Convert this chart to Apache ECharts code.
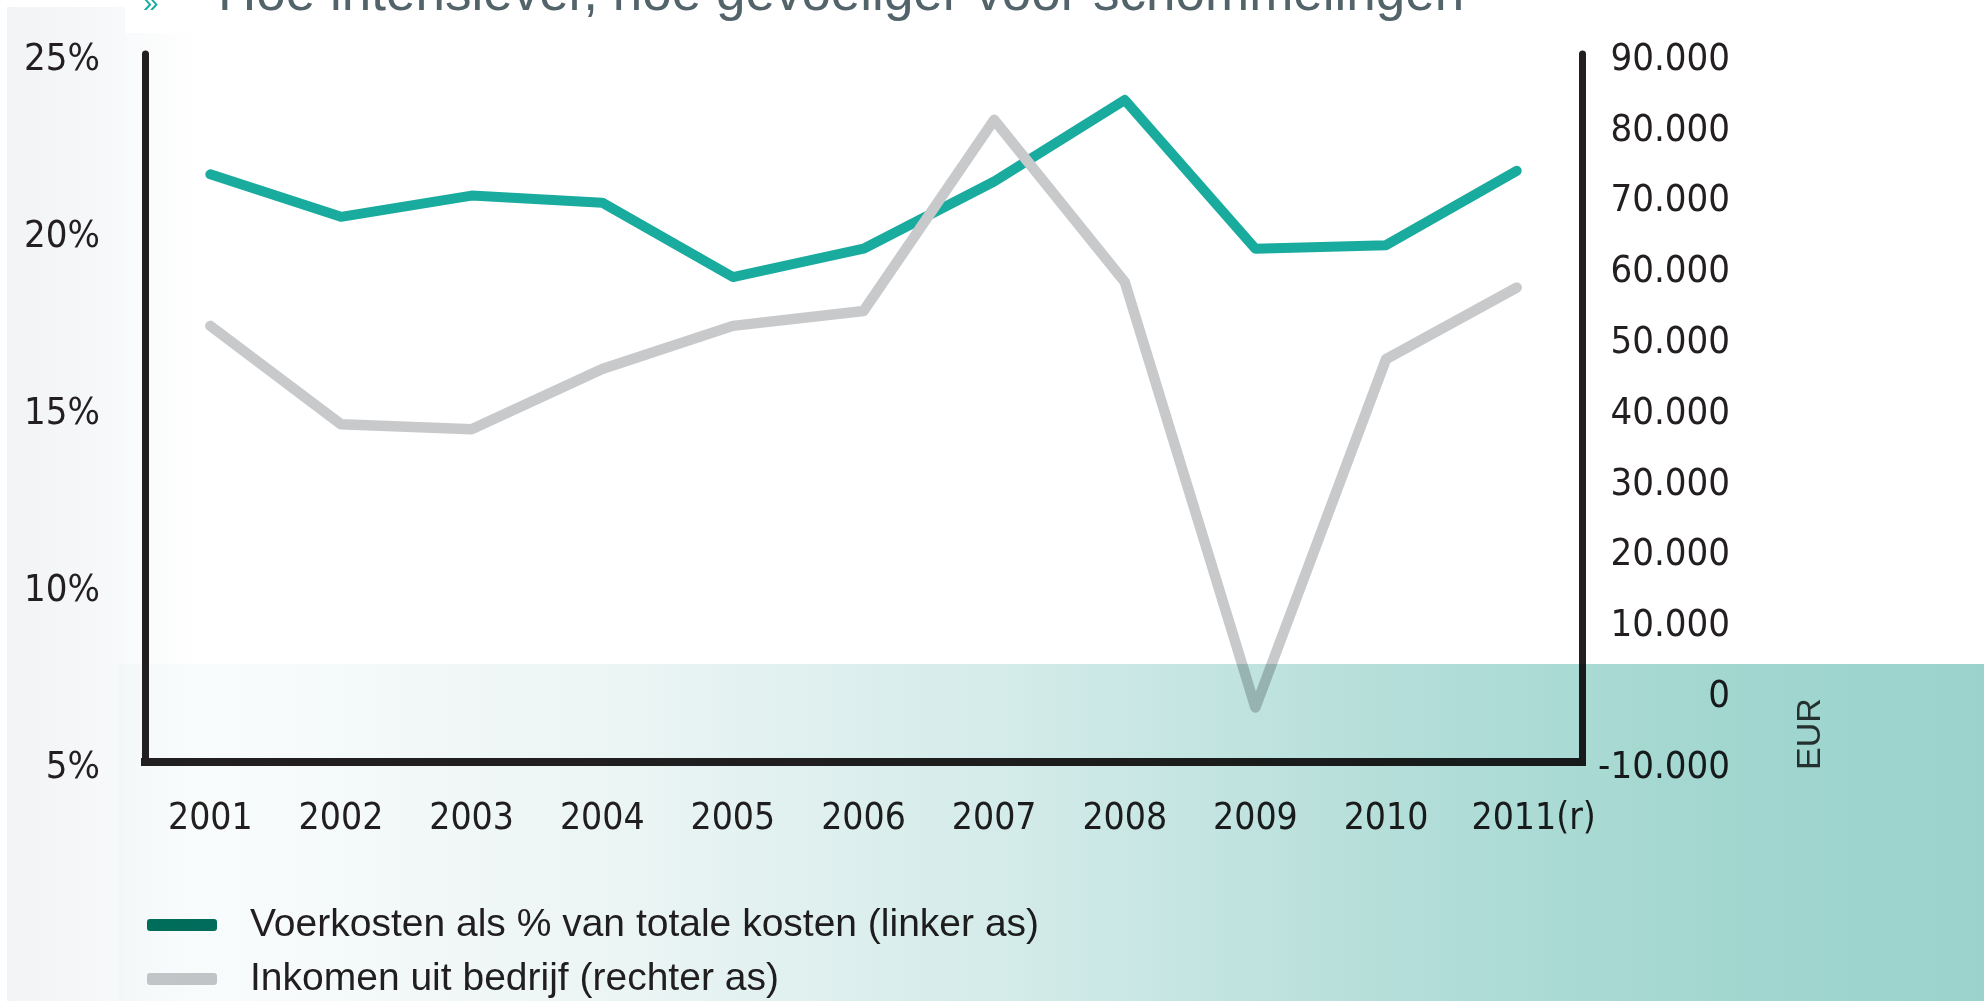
<!DOCTYPE html>
<html>
<head>
<meta charset="utf-8">
<script src="https://cdn.jsdelivr.net/npm/echarts@6/dist/echarts.min.js"></script>
<style>
html,body{margin:0;padding:0;background:#fff;}
#c{width:1984px;height:1001px;}
</style>
</head>
<body>
<div id="c"></div>
<script>
// ---- data ----
const years = ['2001','2002','2003','2004','2005','2006','2007','2008','2009','2010','2011(r)'];
const feedCostPct = [21.6, 20.4, 21.0, 20.8, 18.7, 19.5, 21.4, 23.7, 19.5, 19.6, 21.7];
const farmIncome = [51600, 37700, 37000, 45500, 51600, 53700, 80700, 57800, -2300, 46900, 57000];
const seriesNames = ['Voerkosten als % van totale kosten (linker as)', 'Inkomen uit bedrijf (rechter as)'];
const leftAxisRange = [5, 25, 5];
const rightAxisRange = [-10000, 90000, 10000];
const titleText = 'Hoe intensiever, hoe gevoeliger voor schommelingen';
const rightAxisUnit = 'EUR';

const chart = echarts.init(document.getElementById('c'), null, {renderer: 'canvas'});
const narrow = '"DejaVu Sans Condensed", "Liberation Sans Narrow", sans-serif';
const regular = '"Liberation Sans", Arial, sans-serif';
const ink = '#231f20';

function eur(v) {
  if (v === 0) return '0';
  const s = v < 0 ? '-' : '';
  return s + (Math.abs(v) / 1000) + '.000';
}
// a small spacer line above each y label nudges it a few pixels below its tick
function nudged(s) { return '{s| }\n{v|' + s + '}'; }
function yearLabel(v) {
  const m = /^(\d{4})(\(.*\))$/.exec(v);
  if (m) return '{pad|}' + m[1] + m[2];
  return v;
}
const yRich = {
  s: {fontSize: 1, lineHeight: 12},
  v: {fontFamily: narrow, fontSize: 38, lineHeight: 38, color: ink}
};

chart.setOption({
  backgroundColor: '#ffffff',
  animation: false,
  grid: {left: 145, right: 402, top: 54, bottom: 239, containLabel: false},
  legend: {
    orient: 'vertical', left: 147, top: 904, padding: 0, itemGap: 12,
    itemWidth: 70, itemHeight: 12, selectedMode: false,
    textStyle: {fontFamily: regular, fontSize: 39, color: ink, lineHeight: 42, padding: [0, 0, 0, 28]},
    data: [
      {name: seriesNames[0], icon: 'roundRect', itemStyle: {color: '#006d5b'}},
      {name: seriesNames[1], icon: 'roundRect', itemStyle: {color: '#c6c7c9'}}
    ]
  },
  xAxis: {
    type: 'category', data: years, boundaryGap: true,
    axisLine: {show: true, onZero: false, lineStyle: {color: ink, width: 8, cap: 'square'}},
    axisTick: {show: false},
    axisLabel: {
      fontFamily: narrow, fontSize: 37, color: ink, margin: 39, interval: 0,
      formatter: yearLabel,
      rich: {pad: {width: 34, fontFamily: narrow, fontSize: 37}}
    },
    splitLine: {show: false}
  },
  yAxis: [
    {
      type: 'value', position: 'left', min: leftAxisRange[0], max: leftAxisRange[1], interval: leftAxisRange[2],
      axisLine: {show: true, lineStyle: {color: ink, width: 7}},
      axisTick: {show: false}, splitLine: {show: false},
      axisLabel: {fontFamily: narrow, fontSize: 38, color: ink, margin: 45,
        formatter: v => nudged(v + '%'), rich: yRich}
    },
    {
      type: 'value', position: 'right', min: rightAxisRange[0], max: rightAxisRange[1], interval: rightAxisRange[2],
      axisLine: {show: true, lineStyle: {color: ink, width: 7}},
      axisTick: {show: false}, splitLine: {show: false},
      axisLabel: {fontFamily: narrow, fontSize: 38, color: ink, margin: 148, align: 'right',
        formatter: v => nudged(eur(v)), rich: yRich}
    }
  ],
  series: [
    {
      name: seriesNames[0], type: 'line', yAxisIndex: 0, data: feedCostPct,
      showSymbol: false, symbol: 'none', z: 3,
      lineStyle: {color: '#1aab9f', width: 10, cap: 'round', join: 'round'},
      itemStyle: {color: '#1aab9f'}
    },
    {
      name: seriesNames[1], type: 'line', yAxisIndex: 1, data: farmIncome,
      showSymbol: false, symbol: 'none', z: 4,
      lineStyle: {color: '#c8c9cb', width: 10.5, cap: 'round', join: 'round'},
      itemStyle: {color: '#c8c9cb'}
    }
  ],
  graphic: [
    {
      type: 'rect', z: -10, silent: true,
      shape: {x: 7, y: 7, width: 118, height: 994},
      style: {fill: new echarts.graphic.LinearGradient(0, 0, 1, 0, [
        {offset: 0, color: '#f2f3f5'}, {offset: 1, color: '#f8f9fa'}])}
    },
    {
      type: 'rect', z: -10, silent: true,
      shape: {x: 125, y: 33, width: 75, height: 968},
      style: {fill: new echarts.graphic.LinearGradient(0, 0, 1, 0, [
        {offset: 0, color: '#f9fafb'}, {offset: 1, color: '#ffffff'}])}
    },
    {
      type: 'text', z: 10, silent: true,
      style: {x: 143, y: 4, text: '\u00bb', font: '28px ' + regular, fill: '#1aab9f', verticalAlign: 'middle', align: 'left'}
    },
    {
      type: 'text', z: 10, silent: true,
      style: {x: 218, y: -5, text: titleText, font: '53px ' + regular, fill: '#52646a', verticalAlign: 'middle', align: 'left'}
    },
    {
      type: 'text', z: 10, silent: true, x: 1811, y: 734, rotation: Math.PI / 2,
      style: {x: 0, y: 0, text: rightAxisUnit, font: '34px ' + regular, fill: '#3a3a3a', align: 'center', verticalAlign: 'middle'}
    },
    {
      type: 'rect', z: 100, silent: true,
      shape: {x: 118, y: 664, width: 1866, height: 337},
      style: {
        blend: 'multiply',
        fill: new echarts.graphic.LinearGradient(0, 0, 1, 0, [
          {offset: 0, color: '#fbfdfd'},
          {offset: 0.1, color: '#f6fafa'},
          {offset: 0.27, color: '#ebf5f4'},
          {offset: 0.48, color: '#d3ebe9'},
          {offset: 0.7, color: '#b2ddd8'},
          {offset: 0.88, color: '#a0d6cf'},
          {offset: 1, color: '#9bd3cc'}
        ])
      }
    }
  ]
});
</script>
</body>
</html>
